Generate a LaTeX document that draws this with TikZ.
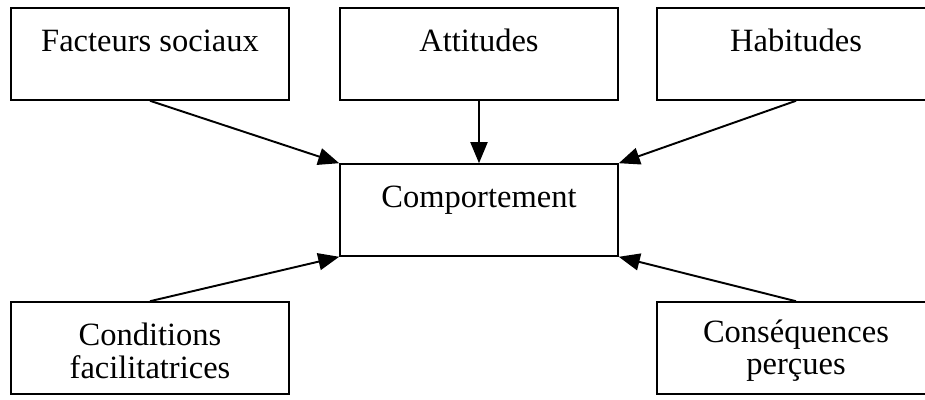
\documentclass[tikz,border=0pt]{standalone}
\usepackage{fontspec}
\setmainfont{Liberation Serif}
\usetikzlibrary{arrows.meta}

\begin{document}
\begin{tikzpicture}[x=1cm,y=1cm,
  boite/.style={draw,line width=0.9pt,minimum width=5.56cm,minimum height=1.84cm,
    align=center,inner sep=0pt,font=\fontsize{18.5}{18.5}\selectfont}]
\def\fleche#1#2{\draw[line width=1.1pt,-{Triangle[length=0.42cm,width=0.34cm]}] (#1) -- (#2);}
\def\bas#1{\raisebox{-1.5pt}[\height][\depth]{#1}}
\useasboundingbox (0,0) rectangle (18.5,8);
\node[boite] at (3.0,6.92) (facteurs) {\bas{Facteurs sociaux}\\\mbox{}};
\node[boite] at (9.58,6.92) (attitudes) {\bas{Attitudes}\\\mbox{}};
\node[boite] at (15.92,6.92) (habitudes) {\bas{Habitudes}\\\mbox{}};
\node[boite] at (9.58,3.8) (comport) {\bas{Comportement}\\\mbox{}};
\node[boite] at (3.0,1.04) (conditions) {\bas{Conditions}\\\bas{facilitatrices}};
\node[boite] at (15.92,1.04) (consequences) {\bas{Conséquences}\\\bas{perçues}};

\fleche{facteurs.south}{comport.north west}
\fleche{attitudes.south}{comport.north}
\fleche{habitudes.south}{comport.north east}
\fleche{conditions.north}{comport.south west}
\fleche{consequences.north}{comport.south east}
\end{tikzpicture}
\end{document}
